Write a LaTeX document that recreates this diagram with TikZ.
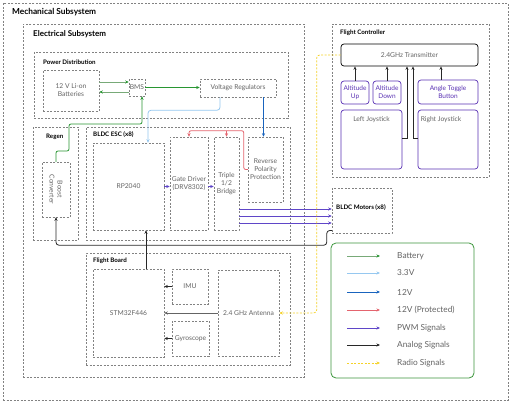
\documentclass[tikz,border=0pt]{standalone}
\usepackage{fontspec}
\setmainfont{Lato}
\usetikzlibrary{arrows.meta}
\definecolor{boxgray}{RGB}{130,130,130}
\definecolor{txtgray}{RGB}{100,100,100}
\definecolor{battline}{RGB}{120,170,120}
\definecolor{battgreen}{RGB}{40,150,50}
\definecolor{vthree}{RGB}{150,200,240}
\definecolor{vtwelve}{RGB}{25,100,190}
\definecolor{vprot}{RGB}{228,100,110}
\definecolor{pwmcol}{RGB}{95,70,200}
\definecolor{analogcol}{RGB}{40,40,40}
\definecolor{radiocol}{RGB}{245,210,40}
\definecolor{btncol}{RGB}{90,50,180}
\definecolor{legcol}{RGB}{60,150,60}
\tikzset{
  dbox/.style={draw=boxgray, dash pattern=on 2pt off 1.5pt, line width=0.5pt, inner sep=0pt, align=center, text=txtgray, font=\fontsize{6.7}{8}\selectfont},
  btn/.style={draw=btncol, rounded corners=3pt, line width=0.7pt, inner sep=0pt, align=center, text=btncol, font=\fontsize{6.5}{7.8}\selectfont},
  ttl/.style={anchor=west, inner sep=0pt, font=\bfseries\fontsize{6.2}{7}\selectfont},
  tip/.style={-{Stealth[length=3.5pt,width=3pt]}},
  battarrow/.style={tip, draw=battline, line width=0.8pt, -{Stealth[length=3.5pt,width=3pt,color=battgreen]}},
  battstrong/.style={tip, draw=battgreen, line width=0.8pt},
  v33/.style={tip, draw=vthree, line width=0.8pt},
  v12/.style={tip, draw=vtwelve, line width=0.8pt},
  v12p/.style={tip, draw=vprot, line width=0.8pt},
  pwm/.style={tip, draw=pwmcol, line width=0.8pt},
  analog/.style={tip, draw=analogcol, line width=0.8pt},
  radio/.style={tip, draw=radiocol, line width=0.7pt, dash pattern=on 2pt off 1.5pt},
  legtext/.style={anchor=west, inner sep=0pt, text=txtgray, font=\fontsize{8.3}{10}\selectfont}
}
\begin{document}
\begin{tikzpicture}[x=1pt,y=-1pt]
\useasboundingbox[fill=white] (0,0) rectangle (512,402);

% containers
\node[dbox, minimum width=505, minimum height=397] (mech) at (255.5,201.5) {};
\node[ttl, font=\bfseries\fontsize{8.3}{9.5}\selectfont] (mechT) at (12,12) {Mechanical Subsystem};
\node[dbox, minimum width=281, minimum height=353] (elec) at (163.5,200.5) {};
\node[ttl, font=\bfseries\fontsize{8}{9.5}\selectfont] (elecT) at (33,34) {Electrical Subsystem};
\node[dbox, minimum width=254, minimum height=66] (power) at (161,85) {};
\node[ttl] (powerT) at (43,62) {Power Distribution};
\node[dbox, minimum width=45, minimum height=113] (regen) at (55.5,183.5) {};
\node[ttl] (regenT) at (46,137) {Regen};
\node[dbox, minimum width=204, minimum height=113] (esc) at (188,183.5) {};
\node[ttl] (escT) at (93,135) {BLDC ESC (x8)};
\node[dbox, minimum width=204, minimum height=112] (fb) at (188,309) {};
\node[ttl] (fbT) at (93,261) {Flight Board};
\node[dbox, minimum width=157, minimum height=153] (fc) at (410.5,100.5) {};
\node[ttl] (fcT) at (340,33) {Flight Controller};

% power distribution
\node[dbox, minimum width=56, minimum height=41] (batt) at (71,90.5) {12 V Li-on\\Batteries};
\node[dbox, minimum width=16, minimum height=17] (bms) at (137,87.5) {BMS};
\node[dbox, minimum width=76, minimum height=18] (vreg) at (238,88) {Voltage Regulators};

% regen
\node[dbox, minimum width=28, minimum height=55] (boost) at (56,189.5) {};
\node[inner sep=0pt, align=center, rotate=-90, text=txtgray, font=\fontsize{6.7}{8}\selectfont] (boostT) at (56,189.5) {Boost\\Converter};

% esc
\node[dbox, minimum width=71, minimum height=87] (rp) at (128.5,186.5) {RP2040};
\node[dbox, minimum width=38, minimum height=93] (gate) at (189,183.5) {Gate Driver\\(DRV8302)};
\node[dbox, minimum width=25, minimum height=93] (bridge) at (226.5,183.5) {Triple\\1/2\\Bridge};
\node[dbox, minimum width=35, minimum height=65] (rpp) at (265.5,169.5) {Reverse\\Polarity\\Protection};

% motors
\node[dbox, minimum width=60, minimum height=45] (motors) at (362,210.5) {};
\node[ttl, text=black] (motorsT) at (336,208) {BLDC Motors (x8)};

% flight board
\node[dbox, minimum width=71, minimum height=88] (stm) at (128.5,313) {STM32F446};
\node[dbox, minimum width=36, minimum height=35] (imu) at (190,286.5) {IMU};
\node[dbox, minimum width=37, minimum height=35] (gyro) at (190.5,338.5) {Gyroscope};
\node[dbox, minimum width=61, minimum height=86] (ant) at (248.5,313) {2.4 GHz Antenna};

% flight controller
\node[draw=black, rounded corners=3pt, line width=0.7pt, minimum width=137, minimum height=22, inner sep=0pt, text=txtgray, font=\fontsize{6.7}{8}\selectfont] (tx) at (409.5,55) {2.4GHz Transmitter};
\node[btn, minimum width=28, minimum height=23] (aup) at (355,92.5) {Altitude\\Up};
\node[btn, minimum width=28, minimum height=23] (adown) at (387,92.5) {Altitude\\Down};
\node[btn, minimum width=60, minimum height=24] (angle) at (448,92) {Angle Toggle\\Button};
\node[btn, minimum width=61, minimum height=59] (lj) at (371.5,139.5) {};
\node[inner sep=0pt, text=txtgray, font=\fontsize{6.7}{8}\selectfont] (ljT) at (371.5,120) {Left Joystick};
\node[btn, minimum width=60, minimum height=59] (rj) at (448,139.5) {};
\node[inner sep=0pt, text=txtgray, font=\fontsize{6.7}{8}\selectfont] (rjT) at (441,120) {Right Joystick};

% legend
\node[draw=legcol, rounded corners=5pt, line width=0.8pt, minimum width=143, minimum height=135, inner sep=0pt] (legend) at (402.5,310.5) {};

% ---- connectors ----
\draw[battarrow] ([yshift=5.5pt]bms.west -| batt.east) -- ([yshift=5.5pt]bms.west);
\draw[battarrow] ([yshift=-4.5pt]bms.west) -- ([yshift=-4.5pt]bms.west -| batt.east);
\draw[battstrong] (bms.east) -- (bms.east -| vreg.west);
\draw[battstrong, rounded corners=2pt] (boost.north) -- (56,151) -- (69,151) -- (69,124) -- (142,124) -- ([xshift=5pt]bms.south);

\draw[v33, rounded corners=3pt] ([xshift=-18pt]vreg.south) -- ++(0,13) -| ([xshift=19.5pt]rp.north);
\draw[v12] ([xshift=25.5pt]vreg.south) -- ([xshift=25.5pt]vreg.south |- rpp.north);

\draw[v12p, rounded corners=2pt] (rpp.west) -- ++(-4,0) |- ([yshift=6pt]gate.north) -- (gate.north);
\draw[v12p] ([yshift=6pt]bridge.north) -- (bridge.north);

\draw[pwm, line width=0.6pt] (rp.east) -- (rp.east -| gate.west);
\draw[pwm, line width=0.6pt] (gate.east |- rp.east) -- (bridge.west |- rp.east);
\foreach \dy in {25.5,32.5,39.5}
  \draw[pwm] ([yshift=-\dy pt]bridge.east) -- ([yshift=-\dy pt]bridge.east -| motors.west);

\draw[analog, rounded corners=3pt] ([yshift=-20pt]motors.west) -- ++(-5,0) |- ([yshift=-28pt]boost.south) -- (boost.south);
\draw[analog] ([xshift=17.5pt]stm.north) -- ([xshift=17.5pt]rp.south);

\draw[analog, line width=0.6pt] (imu.west) -- (imu.west -| stm.east);
\draw[analog, draw=txtgray] (ant.west) -- (ant.west -| stm.east);
\draw[analog, line width=0.6pt] (gyro.west) -- (gyro.west -| stm.east);

\draw[radio, rounded corners=3pt] (tx.west) -- ++(-24,0) |- (ant.east);

\draw[analog] (aup.north) -- (aup.north |- tx.south);
\draw[analog] (adown.north) -- (adown.north |- tx.south);
\draw[analog] ([xshift=-7pt]angle.north) -- ([xshift=-7pt]angle.north |- tx.south);
\draw[analog] ([yshift=1.5pt]lj.east) -| ([xshift=-2.5pt]tx.south);
\draw[analog] ([yshift=1.5pt]rj.west) -| ([xshift=3.5pt]tx.south);

% legend entries
\coordinate (l1a) at (347,256); \coordinate (l1b) at (380,256);
\coordinate (l2a) at (347,273); \coordinate (l2b) at (380,273);
\coordinate (l3a) at (347,292); \coordinate (l3b) at (380,292);
\coordinate (l4a) at (347,310); \coordinate (l4b) at (380,310);
\coordinate (l5a) at (347,328); \coordinate (l5b) at (380,328);
\coordinate (l6a) at (347,345); \coordinate (l6b) at (380,345);
\coordinate (l7a) at (347,363); \coordinate (l7b) at (380,363);
\draw[battarrow] (l1a) -- (l1b);
\draw[v33] (l2a) -- (l2b);
\draw[v12] (l3a) -- (l3b);
\draw[v12p] (l4a) -- (l4b);
\draw[pwm] (l5a) -- (l5b);
\draw[analog] (l6a) -- (l6b);
\draw[radio] (l7a) -- (l7b);
\node[legtext] (t1) at (397,256) {Battery};
\node[legtext] (t2) at (397,273) {3.3V};
\node[legtext] (t3) at (397,292) {12V};
\node[legtext] (t4) at (397,310) {12V (Protected)};
\node[legtext] (t5) at (397,328) {PWM Signals};
\node[legtext] (t6) at (397,345) {Analog Signals};
\node[legtext] (t7) at (397,363) {Radio Signals};
\end{tikzpicture}
\end{document}
